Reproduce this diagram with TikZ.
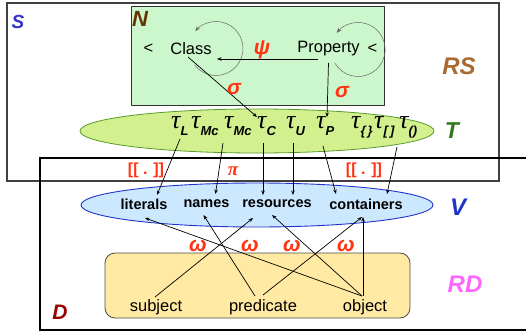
\documentclass[tikz,border=0pt]{standalone}
\usepackage{fontspec}
\setmainfont{Liberation Sans}
\newfontfamily\serifg{Liberation Serif}
\usetikzlibrary{arrows.meta}
\definecolor{labred}{HTML}{FF3311}
\definecolor{sblue}{HTML}{3333CC}
\definecolor{nbrown}{HTML}{663300}
\definecolor{rsbrown}{HTML}{A86A32}
\definecolor{tgreen}{HTML}{2F7A1F}
\definecolor{vblue}{HTML}{2233CC}
\definecolor{rdpink}{HTML}{FF66FF}
\definecolor{dred}{HTML}{990000}
\definecolor{nfill}{HTML}{CCF7CC}
\definecolor{tfill}{HTML}{D2F08E}
\definecolor{tline}{HTML}{5A9A2A}
\definecolor{vfill}{HTML}{CCE8FF}
\definecolor{rdfill}{HTML}{FFE9A3}
\newcommand\tauSub[1]{{\serifg\itshape\fontsize{26}{26}\selectfont τ}\raisebox{-7pt}{\fontsize{13}{13}\selectfont\bfseries\itshape #1}}
\begin{document}
\begin{tikzpicture}[x=1pt,y=-1pt,
  arr/.style={-{Stealth[length=4.5pt,width=3.5pt]}, line width=0.7pt},
  looparr/.style={-{Stealth[length=5pt,width=4pt]}, line width=0.5pt, draw=black!60},
  biglab/.style={font=\bfseries\itshape, inner sep=0pt},
  nlab/.style={font=\fontsize{16.5}{16.5}\selectfont, inner sep=0pt},
  vlab/.style={font=\fontsize{14.5}{14.5}\selectfont\bfseries, inner sep=0pt},
  rdlab/.style={font=\fontsize{16.5}{16.5}\selectfont, inner sep=0pt},
  greek/.style={text=labred, font=\fontsize{21}{21}\selectfont\bfseries\itshape, inner sep=0pt},
  brk/.style={text=labred, font=\fontsize{16}{16}\selectfont\bfseries, inner sep=0pt},
  taun/.style={anchor=base west, inner sep=0pt},
]
\useasboundingbox (0,0) rectangle (526,334);
% outer boxes
\draw[line width=1.2pt, draw=black!75] (7,3) rectangle (499,181);
\draw[line width=1.2pt] (527,158) -- (40,158) -- (40,330) -- (527,330);
% N box
\draw[fill=nfill, line width=1pt, draw=black!80] (131,7) rectangle (384,105);
% ellipses
\draw[fill=tfill, draw=tline, line width=0.8pt] (257,131) ellipse [x radius=177, y radius=22];
\draw[fill=vfill, draw=vblue, line width=0.9pt] (257,205) ellipse [x radius=176, y radius=22];
% RD box
\draw[fill=rdfill, draw=black!70, line width=0.8pt, rounded corners=10pt] (105,253) rectangle (410,318);

% N contents
\node[nlab] (lt1) at (148.5,49) {<};
\node[nlab] (cls) at (191,49) {Class};
\node[nlab] (prop) at (328.5,49) {Property};
\node[nlab] (lt2) at (372.5,49) {<};
\draw[looparr] (216,48.5) ++(143:27) arc[start angle=143, end angle=-140, radius=27];
\draw[looparr] (359,49) ++(150:28) arc[start angle=150, end angle=-142, radius=27];

% taus
\node[taun] (tL) at (171,128) {\tauSub{L}};
\node[taun] (tM1) at (191,128) {\tauSub{Mc}};
\node[taun] (tM2) at (224,128) {\tauSub{Mc}};
\node[taun] (tC) at (257,128) {\tauSub{C}};
\node[taun] (tU) at (286,128) {\tauSub{U}};
\node[taun] (tP) at (316,128) {\tauSub{P}};
\node[taun] (tB) at (351,128) {\tauSub{\{\,\}}};
\node[taun] (tK) at (374,128) {\tauSub{[\,]}};
\node[taun] (tR) at (399,128) {\tauSub{()}};

% V contents
\node[vlab] (lit) at (144,204) {literals};
\node[vlab] (nam) at (206.5,204) {names};
\node[vlab] (res) at (277,204) {resources};
\node[vlab] (con) at (366,204) {containers};

% RD contents
\node[rdlab] (subj) at (156,307) {subject};
\node[rdlab] (pred) at (263,307) {predicate};
\node[rdlab] (obj) at (365,307) {object};

% N arrows
\draw[arr] ([shift={(-11,10)}]prop.center) -- ([shift={(26,10)}]cls.center);
\draw[arr] ([shift={(-3,8)}]cls.center) -- ([shift={(0,-11)}]tC.base west);
\draw[arr] ([shift={(0,14)}]prop.center) -- ([shift={(11,-11)}]tP.base west);

% T -> V
\draw[arr] ([shift={(9,11)}]tL.base west) -- ([shift={(13,-9)}]lit.center);
\draw[arr] ([shift={(32,15)}]tM1.base west) -- ([shift={(9,-10)}]nam.center);
\draw[arr] ([shift={(6,15)}]tC.base west) -- ([shift={(-14,-9)}]res.center);
\draw[arr] ([shift={(7,15)}]tU.base west) -- ([shift={(16,-9)}]res.center);
\draw[arr] ([shift={(7,18)}]tP.base west) -- ([shift={(-30,-10)}]con.center);
\draw[arr] ([shift={(-2,19)}]tR.base west) -- ([shift={(21,-10)}]con.center);

% RD -> V
\draw[arr] ([shift={(-1,-10)}]subj.center) -- ([shift={(-24,14)}]res.center);
\draw[arr] ([shift={(-8,-11)}]pred.center) -- ([shift={(-3,11)}]nam.center);
\draw[arr] ([shift={(0,-12)}]pred.center) -- ([shift={(-4,13)}]con.center);
\draw[arr] ([shift={(-3,-11)}]obj.center) -- ([shift={(1,14)}]lit.center);
\draw[arr] ([shift={(-3,-11)}]obj.center) -- ([shift={(-5,11)}]res.center);
\draw[arr] ([shift={(-2,-11)}]obj.center) -- ([shift={(-3,13)}]con.center);

% red labels
\node[greek] (psi) at (262,50) {ψ};
\node[greek] (sig1) at (234,89) {σ};
\node[greek] (sig2) at (342,92) {σ};
\node[brk] (br1) at (146,170) {[[ . ]]};
\node[greek, font=\serifg\fontsize{19}{19}\selectfont\bfseries\itshape] (pi) at (233,171) {π};
\node[brk] (br2) at (364,170) {[[ . ]]};
\node[greek] (w1) at (198,246) {ω};
\node[greek] (w2) at (250,246) {ω};
\node[greek] (w3) at (292,246) {ω};
\node[greek] (w4) at (346,246) {ω};

% big labels
\node[biglab, text=sblue, font=\fontsize{19}{19}\selectfont\bfseries\itshape] (lS) at (18,22) {S};
\node[biglab, text=nbrown, font=\fontsize{22}{22}\selectfont\bfseries\itshape] (lN) at (140,19) {N};
\node[biglab, text=rsbrown, font=\fontsize{24}{24}\selectfont\bfseries\itshape] (lRS) at (459,66) {RS};
\node[biglab, text=tgreen, font=\fontsize{23}{23}\selectfont\bfseries\itshape] (lT) at (452,131) {T};
\node[biglab, text=vblue, font=\fontsize{24}{24}\selectfont\bfseries\itshape] (lV) at (458,207) {V};
\node[biglab, text=rdpink, font=\fontsize{24}{24}\selectfont\bfseries\itshape] (lRD) at (465,284) {RD};
\node[biglab, text=dred, font=\fontsize{21}{21}\selectfont\bfseries\itshape] (lD) at (60,312) {D};
\end{tikzpicture}
\end{document}
